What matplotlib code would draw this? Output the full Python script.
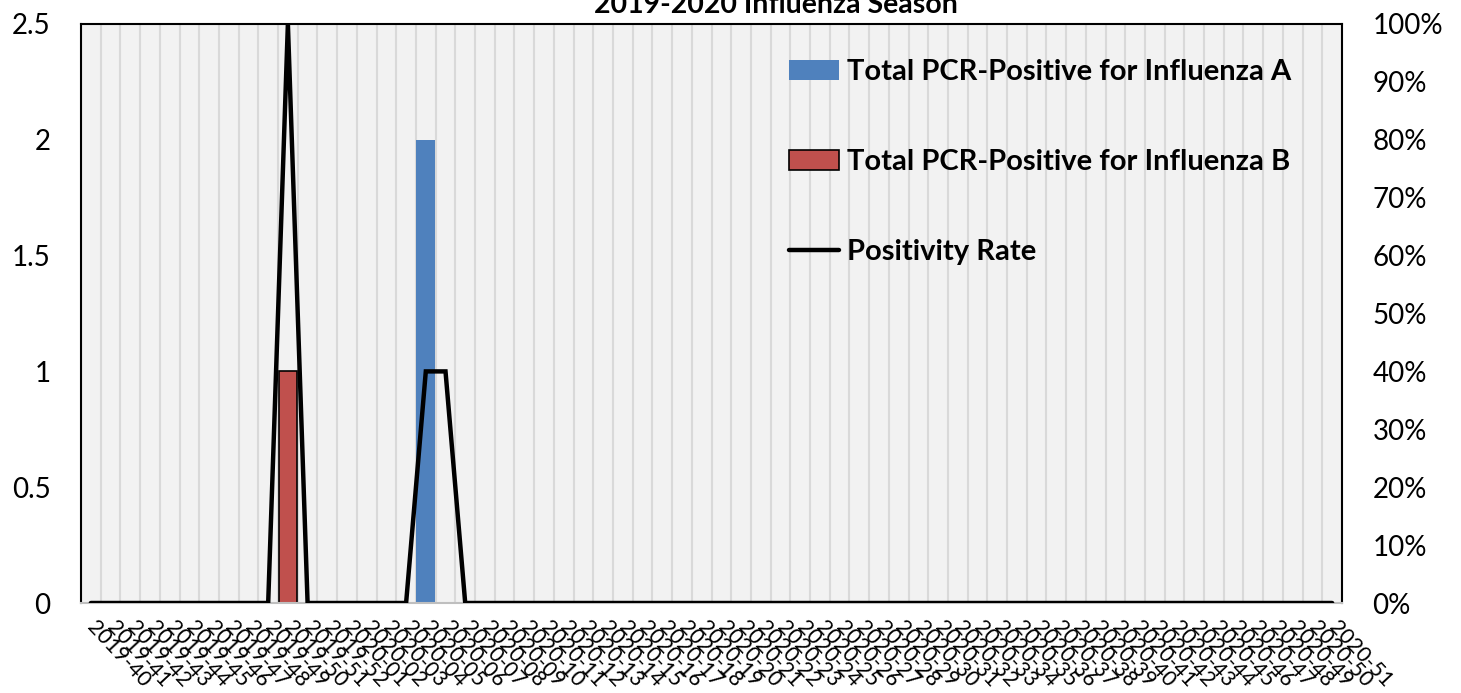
import matplotlib
matplotlib.use("Agg")
import matplotlib.pyplot as plt
import numpy as np
from matplotlib.ticker import FixedLocator, PercentFormatter

plt.rcParams['font.family'] = ['Lato', 'DejaVu Sans']

# weeks of the season, 2019-40 .. 2020-51
weeks = ['2019-%02d' % w for w in range(40, 53)] + ['2020-%02d' % w for w in range(1, 52)]

# 2019-40 .. 2019-52, then 2020-01 .. 2020-51
flu_a = [0, 0, 0, 0, 0, 0, 0, 0, 0, 0, 0, 0, 0,
         0, 0, 0, 0, 2, 0, 0, 0, 0, 0,
         0, 0, 0, 0, 0, 0, 0, 0, 0, 0,
         0, 0, 0, 0, 0, 0, 0, 0, 0, 0,
         0, 0, 0, 0, 0, 0, 0, 0, 0, 0,
         0, 0, 0, 0, 0, 0, 0, 0, 0, 0,
         0]
flu_b = [0, 0, 0, 0, 0, 0, 0, 0, 0, 0, 1, 0, 0,
         0, 0, 0, 0, 0, 0, 0, 0, 0, 0,
         0, 0, 0, 0, 0, 0, 0, 0, 0, 0,
         0, 0, 0, 0, 0, 0, 0, 0, 0, 0,
         0, 0, 0, 0, 0, 0, 0, 0, 0, 0,
         0, 0, 0, 0, 0, 0, 0, 0, 0, 0,
         0]
positivity = [0, 0, 0, 0, 0, 0, 0, 0, 0, 0, 1.0, 0, 0,
              0, 0, 0, 0, 0.4, 0.4, 0, 0, 0, 0,
              0, 0, 0, 0, 0, 0, 0, 0, 0, 0,
              0, 0, 0, 0, 0, 0, 0, 0, 0, 0,
              0, 0, 0, 0, 0, 0, 0, 0, 0, 0,
              0, 0, 0, 0, 0, 0, 0, 0, 0, 0,
              0]

x = np.arange(len(weeks))

fig = plt.figure(figsize=(14.61, 6.93), dpi=100)
ax = fig.add_axes([81/1461, 90/693, 1261/1461, 579/693])
ax.set_facecolor('#f2f2f2')

ba = ax.bar(x, flu_a, width=0.95, color='#4f81bd', zorder=2,
            label='Total PCR-Positive for Influenza A')
bb = ax.bar(x, flu_b, width=0.92, color='#c0504d', edgecolor='black', linewidth=1.2,
            zorder=2, label='Total PCR-Positive for Influenza B')

ax.set_xlim(-0.5, len(weeks) - 0.5)
ax.set_ylim(0, 2.5)
ax.set_yticks([0, 0.5, 1, 1.5, 2, 2.5])
ax.set_yticklabels(['0', '0.5', '1', '1.5', '2', '2.5'])
ax.xaxis.set_minor_locator(FixedLocator(np.arange(-0.5, len(weeks), 1.0)))
ax.grid(True, which='minor', axis='x', color='#d9d9d9', linewidth=1.5, zorder=0)
ax.set_axisbelow(True)
ax.set_xticks(x)
ax.set_xticklabels(weeks, rotation=-47, ha='left', va='center', rotation_mode='anchor',
                   fontsize=15.5)
ax.tick_params(axis='x', which='both', length=0, pad=15)
ax.tick_params(axis='y', length=0, pad=22, labelsize=20)
for s in ['left', 'top', 'right']:
    ax.spines[s].set_color('black')
    ax.spines[s].set_linewidth(1.5)
ax.spines['bottom'].set_color('#bfbfbf')
ax.spines['bottom'].set_linewidth(1.5)

ax2 = ax.twinx()
ln, = ax2.plot(x, positivity, color='black', linewidth=3.2, solid_capstyle='round',
               solid_joinstyle='miter', zorder=3, label='Positivity Rate')
ax2.set_ylim(0, 1)
ax2.set_yticks(np.arange(0, 1.01, 0.1))
ax2.yaxis.set_major_formatter(PercentFormatter(1.0, decimals=0))
ax2.tick_params(axis='y', length=0, pad=22, labelsize=20)
for s in ax2.spines.values():
    s.set_visible(False)

fig.legend([ba, bb, ln],
           ['Total PCR-Positive for Influenza A', 'Total PCR-Positive for Influenza B',
            'Positivity Rate'],
           loc='upper left', bbox_to_anchor=(789/1461, 1 - 59/693), frameon=False,
           prop={'size': 21, 'weight': 'bold'}, labelspacing=2.2, handlelength=1.7,
           handletextpad=0.3, borderpad=0, borderaxespad=0)

fig.text(776/1461, 1 - 13/693, '2019-2020 Influenza Season', ha='center', va='baseline',
         fontsize=20.5, fontweight='bold')

fig.savefig('out.png', dpi=100)
